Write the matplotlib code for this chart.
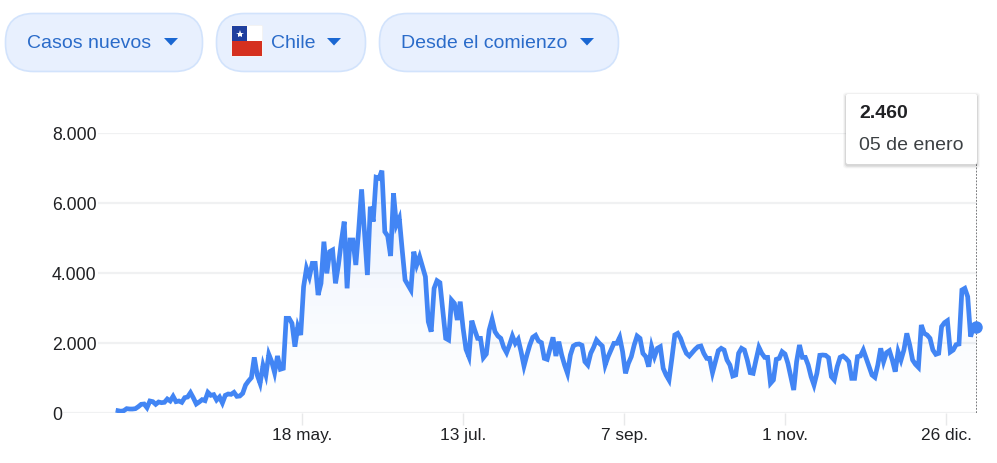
#!/usr/bin/env python3
"""
New daily COVID-19 cases for Chile, drawn as a search-style card with filter pills.
"""

import numpy as np
import matplotlib
matplotlib.use("Agg")
import matplotlib.pyplot as plt
from matplotlib.patches import FancyBboxPatch, Polygon, Rectangle

plt.rcParams['font.family'] = ['Liberation Sans', 'DejaVu Sans']

WIDTH, HEIGHT = 997, 463

# Daily new cases, one list per month
cases_mar = [66, 50, 66, 124, 114, 114, 124, 180, 248, 257, 152, 343, 324, 248, 314, 295, 305]
cases_apr = [400, 343, 476, 324, 343, 305, 438, 457, 581, 429, 257, 314, 381, 352, 590,
             505, 524, 371, 457, 286, 505, 543, 533, 590, 476, 486, 562, 800, 914, 1010]
cases_may = [1590, 1086, 848, 1362, 1086, 1676, 1467, 1152, 1629, 1250, 1276, 2705, 2705, 2562,
             1895, 2467, 2229, 3610, 4133, 3895, 4276, 4276, 3371, 3705, 4895, 3990, 4610, 4657,
             3705, 4229, 4895]
cases_jun = [5467, 3562, 4943, 4943, 4229, 5229, 6390, 5181, 3943, 5895, 5467, 6733, 6705, 6924,
             5181, 5057, 4486, 6276, 5371, 5562, 4657, 3800, 3657, 3514, 4610, 4229, 4467, 4181,
             3895, 2610]
cases_jul = [2324, 3562, 3781, 3724, 2943, 2133, 2086, 3229, 3133, 2657, 3181, 2419, 1819, 1610,
             2638, 2371, 2133, 2133, 1581, 1686, 2371, 2676, 2324, 2200, 2133, 1876, 1724, 1943,
             2200, 1990, 2105]
cases_ago = [1752, 1343, 1657, 1943, 2162, 2219, 2057, 2010, 1562, 1533, 1848, 2162, 1629, 2038,
             1657, 1371, 1133, 1657, 1914, 1962, 1971, 1933, 1467, 1371, 1705, 1876, 2086, 1990,
             1914, 1371, 1610]
cases_sep = [1800, 1990, 1990, 2162, 1752, 1133, 1419, 1610, 1943, 2200, 2133, 1705, 1610, 1324,
             1895, 1610, 1848, 1895, 1276, 1086, 943, 1562, 2229, 2276, 2133, 1895, 1705, 1629,
             1724, 1819]
cases_oct = [1895, 1914, 1705, 1562, 1562, 1152, 1467, 1781, 1848, 1800, 1514, 1371, 1057, 1086,
             1705, 1848, 1800, 1514, 1152, 1133, 1514, 1876, 1705, 1590, 1590, 848, 943, 1533,
             1562, 1752, 1686]
cases_nov = [1419, 1038, 657, 1467, 1943, 1590, 1590, 1371, 1038, 800, 1133, 1648, 1657, 1648,
             1581, 1038, 943, 1324, 1590, 1629, 1562, 1467, 990, 990, 1610, 1629, 1800, 1562,
             1324, 1086]
cases_dic = [1019, 1371, 1848, 1467, 1724, 1781, 1514, 1181, 1752, 1514, 1800, 2276, 1943, 1514,
             1390, 1305, 2514, 2276, 2229, 2133, 1800, 1676, 1705, 2467, 2581, 2638, 1743, 1800,
             1952, 1971, 3514]
cases_ene = [3562, 3324, 2181, 2467, 2460]

y_ticks = [0, 2000, 4000, 6000, 8000]
y_labels = ["0", "2.000", "4.000", "6.000", "8.000"]
x_labels = ["18 may.", "13 jul.", "7 sep.", "1 nov.", "26 dic."]
x_ticks = [63.5, 119, 174.5, 230, 285.5]

filters = ["Casos nuevos", "Chile", "Desde el comienzo"]
tooltip_date = "05 de enero"

LINE_BLUE = "#4285f4"
PILL_FILL = "#e8f0fe"
PILL_EDGE = "#d2e3fc"
PILL_TEXT = "#2a6bc9"
GRID = "#f0f1f2"
TEXT = "#202124"


def draw_chart(fig):
    """Line with gradient fill, grid and hover marker."""
    left, right, top, bottom = 62, 977, 133, 413
    ax = fig.add_axes([left / WIDTH, 1 - bottom / HEIGHT,
                       (right - left) / WIDTH, (bottom - top) / HEIGHT])

    values = np.array(cases_mar + cases_apr + cases_may + cases_jun + cases_jul + cases_ago
                      + cases_sep + cases_oct + cases_nov + cases_dic + cases_ene)
    days = np.arange(len(values))

    # Gradient under the line, clipped to the area below it
    area = ax.fill_between(days, values, 0, color="none", lw=0)
    shade = np.zeros((256, 1, 4))
    shade[..., :3] = matplotlib.colors.to_rgb(LINE_BLUE)
    shade[:, 0, 3] = np.linspace(0.13, 0.0, 256) ** 1.1
    img = ax.imshow(shade, extent=(days[0], days[-1], 0, values.max()), aspect="auto",
                    origin="upper", zorder=1)
    img.set_clip_path(area.get_paths()[0], transform=ax.transData)

    ax.plot(days, values, color=LINE_BLUE, lw=3.4, solid_joinstyle="miter", zorder=3)

    # Hover cursor on the latest day
    ax.axvline(days[-1] + 0.2, color="#6f7174", lw=1.3, ls=(0, (1, 0.8)), zorder=4)
    ax.plot(days[-1], values[-1], "o", color=LINE_BLUE, ms=9, mew=0, zorder=5, clip_on=False)

    ax.set_xlim((left - 118) / 2.9, (right - 118) / 2.9)
    ax.set_ylim(0, 8000)

    ax.set_yticks(y_ticks)
    ax.set_yticklabels(y_labels, fontsize=12.7, color=TEXT, ha="left",
                       bbox=dict(fc="white", ec="none", pad=1.0))
    ax.tick_params(axis="y", length=0, pad=7.2)
    ax.set_xticks(x_ticks)
    ax.set_xticklabels(x_labels, fontsize=12.4, color=TEXT)
    ax.tick_params(axis="x", length=8.6, width=1.0, color="#e8e9ea", pad=2.0)

    ax.yaxis.grid(True, color=GRID, lw=1.6)
    ax.set_axisbelow(True)
    for spine in ax.spines.values():
        spine.set_visible(False)
    return values


def draw_pill(ax, x0, x1, label, text_x, arrow_x):
    """Rounded filter button with its drop-down arrow."""
    ax.add_patch(FancyBboxPatch((x0 + 0.5, 13.5), x1 - x0 - 1, 58,
                                boxstyle="round,pad=0,rounding_size=28",
                                fc=PILL_FILL, ec=PILL_EDGE, lw=1.2))
    ax.text(text_x, 43, label, fontsize=14, color=PILL_TEXT, ha="left", va="center")
    ax.add_patch(Polygon([(arrow_x, 38), (arrow_x + 14, 38), (arrow_x + 7, 45.5)],
                         closed=True, fc="#1a67d2", ec="none"))


def draw_flag(ax):
    """Chilean flag icon inside the country pill."""
    ax.add_patch(FancyBboxPatch((231, 25), 32, 32, boxstyle="round,pad=0,rounding_size=2",
                                fc="#f3f3f3", ec="none"))
    ax.add_patch(Rectangle((232, 26), 30, 15, fc="white", ec="none"))
    ax.add_patch(Rectangle((232, 26), 15, 15, fc="#1f3f9e", ec="none"))
    ax.add_patch(Rectangle((232, 41), 30, 15, fc="#d5301f", ec="none"))
    ax.plot([239.5], [33.5], marker="*", color="white", ms=6, mew=0)


def draw_tooltip(ax, value):
    """White hover card with a soft shadow."""
    x0, y0, w, h = 846, 94, 131, 70
    for grow, alpha in [(3.0, 0.03), (2.0, 0.05), (1.0, 0.08)]:
        ax.add_patch(FancyBboxPatch((x0 - grow, y0 + 1.5 - grow), w + 2 * grow, h + 2 * grow,
                                    boxstyle="round,pad=0,rounding_size=3",
                                    fc="black", ec="none", alpha=alpha))
    ax.add_patch(FancyBboxPatch((x0, y0), w, h, boxstyle="round,pad=0,rounding_size=2",
                                fc="white", ec="none"))
    label = f"{value:,}".replace(",", ".")
    ax.text(859, 113.5, label, fontsize=14, fontweight="bold", color=TEXT, ha="left", va="center")
    ax.text(859, 145, tooltip_date, fontsize=14, color="#3c4043", ha="left", va="center")


def main():
    fig = plt.figure(figsize=(WIDTH / 100, HEIGHT / 100), dpi=100, facecolor="white")
    values = draw_chart(fig)

    # Pixel-space layer for the controls and the hover card
    overlay = fig.add_axes([0, 0, 1, 1], facecolor="none")
    overlay.set_xlim(0, WIDTH)
    overlay.set_ylim(HEIGHT, 0)
    overlay.axis("off")

    draw_pill(overlay, 5, 203, filters[0], 27, 164)
    draw_pill(overlay, 216, 366, filters[1], 271, 327)
    draw_pill(overlay, 379, 619, filters[2], 401, 580)
    draw_flag(overlay)
    draw_tooltip(overlay, int(values[-1]))

    fig.savefig("out.png", dpi=100)


if __name__ == "__main__":
    main()
